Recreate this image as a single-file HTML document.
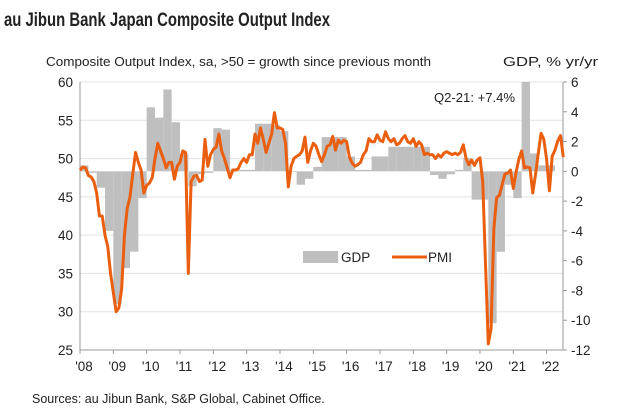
<!DOCTYPE html>
<html><head><meta charset="utf-8"><style>
body{margin:0;background:#fff;width:621px;height:409px;overflow:hidden;font-family:"Liberation Sans",Arial,sans-serif;}
svg text{font-family:"Liberation Sans",Arial,sans-serif;fill:#222;}
</style></head><body>
<svg id="chart" width="621" height="409" xmlns="http://www.w3.org/2000/svg">
<text x="4" y="26" font-size="19.5" font-weight="bold" fill="#111" textLength="326" lengthAdjust="spacingAndGlyphs">au Jibun Bank Japan Composite Output Index</text>
<text x="46" y="66" font-size="12.5" textLength="385" lengthAdjust="spacingAndGlyphs">Composite Output Index, sa, &gt;50 = growth since previous month</text>
<text x="503" y="66" font-size="12.5" textLength="95" lengthAdjust="spacingAndGlyphs">GDP, % yr/yr</text>
<text x="32" y="403" font-size="12.5">Sources: au Jibun Bank, S&amp;P Global, Cabinet Office.</text>
<g id="grid"></g><g id="bars"></g><g id="axes"></g><g id="line"></g>
<text x="434" y="102" font-size="12.5" textLength="81" lengthAdjust="spacingAndGlyphs">Q2-21: +7.4%</text>
<rect x="303" y="251" width="35" height="12" fill="#bfbfbf"/>
<text x="341" y="262" font-size="13.5">GDP</text>
<line x1="392" y1="257" x2="427" y2="257" stroke="#ea5f0f" stroke-width="3"/>
<text x="428" y="262" font-size="13.5">PMI</text>
</svg>
<script>
const pmi2008=[48.5,48.9,48.8,47.8,47.6,47,45.5,42.5,42.5,40,38.5,35];
const pmi2009=[32.5,30,30.5,33,40,43.5,45,48,50.8,49.5,48.5,45.5];
const pmi2010=[46.5,46.8,47.5,50,52,51,50,48.8,49.5,49.5,47.3,49];
const pmi2011=[49.5,51,50.8,35,47,47.7,47.8,47,47.2,52.5,49,50.5];
const pmi2012=[51.2,51.5,53.2,51,50,48.8,47.5,48.5,48.5,48.7,49.5,50];
const pmi2013=[49.5,50.5,50.5,53.2,52,54,52.5,50.8,52,53.2,56,54];
const pmi2014=[54,53.8,52,46.3,49,50,50.3,50.5,51,52.8,49.5,51];
const pmi2015=[52,51.6,50.5,49.6,50.5,51.6,51.8,52.9,51.1,52.4,52,52.4];
const pmi2016=[52.2,50.2,49.4,49,49.2,49.5,50.5,51,52.6,52.2,52.2,53.1];
const pmi2017=[52.4,52.2,53.5,52.6,52.2,52.6,51.8,52,52.6,53,52.2,52];
const pmi2018=[52.6,51.6,52.2,51.8,50.5,50.7,50.5,50.5,50,50.5,50.2,50.7];
const pmi2019=[50.9,50.7,50.5,50.7,50.5,50.8,51.8,50,49.2,49.8,49.1,49.8];
const pmi2020=[50.1,47,36.2,25.8,27.8,40.8,44.9,45.2,46.6,48,48.1,48.5];
const pmi2021=[46.1,48.2,49.9,51,48.8,48.9,48.8,45.5,47.9,50.7,53.3,52.5];
const pmi2022=[49.9,45.8,50.3,51.1,52.3,53,50.2];
const gdpQ=[0.4,-0.1,-1.1,-4,-8.9,-6.5,-5.4,-1.8,4.3,3.6,5.5,3.3,1.2,-1.0,-0.2,-0.1,2.9,2.8,0.1,0.1,0.1,3.2,3.2,3.1,2.7,0,-0.9,-0.5,0.3,2.3,2.3,2.3,1.0,0.1,0.1,1.0,1.0,1.65,1.65,1.65,1.65,1.65,-0.25,-0.5,-0.2,0.1,0.9,-1.9,-1.9,-10.2,-5.4,-0.9,-1.8,7.4,1.2,0.4,0.4];
const leftTicks=[25,30,35,40,45,50,55,60];
const rightTicks=[-12,-10,-8,-6,-4,-2,0,2,4,6];
const yearLabels=["'08","'09","'10","'11","'12","'13","'14","'15","'16","'17","'18","'19","'20","'21","'22"];

const NS="http://www.w3.org/2000/svg";
const X0=80,XR=563,YT=82,YB=350,MW=33.33/12;
const xM=m=>X0+m*MW;
const yL=v=>YT+(60-v)*(YB-YT)/35;
const yR=v=>YT+(6-v)*(YB-YT)/18;
function mk(t,a,p){const e=document.createElementNS(NS,t);for(const k in a)e.setAttribute(k,a[k]);document.getElementById(p).appendChild(e);return e;}
leftTicks.forEach(v=>{
  if(v>25){const g=mk('line',{x1:X0,x2:XR,y1:yL(v),y2:yL(v),stroke:'#e3e3e3','stroke-width':1},'grid');
  
  }
  const t=mk('text',{x:X0-7,y:yL(v)+5,'font-size':13.5,'text-anchor':'end'},'axes');t.textContent=v;
  
  
});
rightTicks.forEach(v=>{
  mk('line',{x1:XR,x2:XR+4,y1:yR(v),y2:yR(v),stroke:'#999'},'axes');
  const t=mk('text',{x:XR+8,y:yR(v)+5,'font-size':13.5},'axes');t.textContent=v;
  
  
});
mk('line',{x1:X0,x2:X0,y1:YT,y2:YB,stroke:'#999'},'axes');
mk('line',{x1:XR,x2:XR,y1:YT,y2:YB,stroke:'#999'},'axes');
mk('line',{x1:X0,x2:XR,y1:YB,y2:YB,stroke:'#999'},'axes');
yearLabels.forEach((s,i)=>{
  const x=xM(i*12);
  mk('line',{x1:x,x2:x,y1:YB,y2:YB+4,stroke:'#999'},'axes');
  const t=mk('text',{x:x+4,y:YB+21,'font-size':13.5,'text-anchor':'middle'},'axes');t.textContent=s;
  
  
});
gdpQ.forEach((v,q)=>{
  const x1=xM(q*3),x2=Math.min(xM(q*3+3),XR);
  const top=Math.max(YT,yR(Math.max(v,0))),bot=yR(Math.min(v,0));
  const r=mk('rect',{x:x1,y:top,width:x2-x1,height:Math.max(bot-top,0.6),fill:'#bfbfbf'},'bars');
  
  
});
const pmi=[].concat(pmi2008,pmi2009,pmi2010,pmi2011,pmi2012,pmi2013,pmi2014,pmi2015,pmi2016,pmi2017,pmi2018,pmi2019,pmi2020,pmi2021,pmi2022);
const pts=pmi.map((v,i)=>xM(i)+','+yL(v)).join(' ');
const pl=mk('polyline',{points:pts,fill:'none',stroke:'#ea5f0f','stroke-width':3,'stroke-linejoin':'round'},'line');


</script>
</body></html>
